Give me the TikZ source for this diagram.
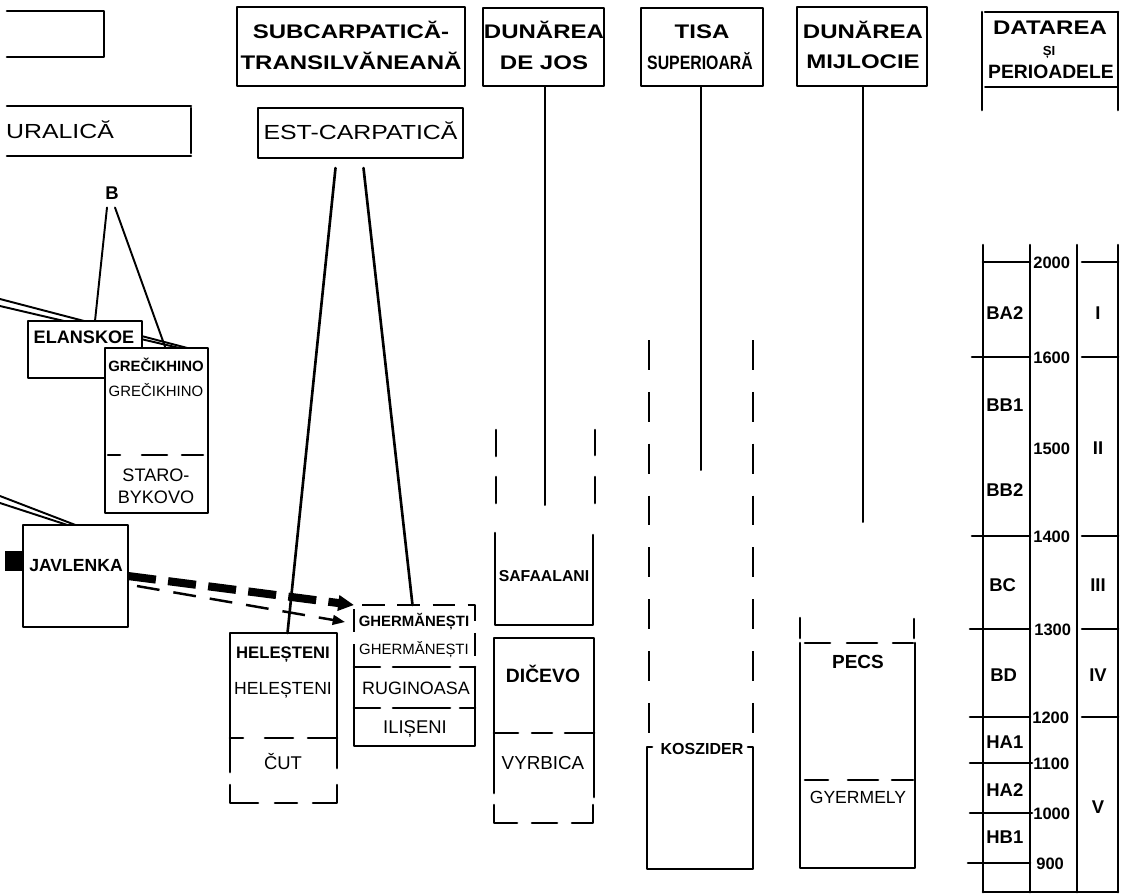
\documentclass[tikz,border=0pt]{standalone}
\usepackage{fontspec}
\setmainfont{Liberation Sans}
\newfontfamily\widefont[FakeStretch=1.22]{Liberation Sans}
\newfontfamily\narrowfont[FakeStretch=0.82]{Liberation Sans}
\usetikzlibrary{arrows.meta,backgrounds}

\begin{document}
\begin{tikzpicture}[line cap=round,line join=round,x=0.02cm,y=-0.02cm,
  >={Triangle[length=9pt,width=8.5pt]},
  box/.style={draw,line width=1.5pt,inner sep=0pt,outer sep=0pt},
  slot/.style={inner sep=0pt,outer sep=0pt},
  bl/.style={font=\bfseries\fontsize{#1}{#1}\selectfont,inner sep=0pt,text height=7pt,text depth=0pt},
  rg/.style={font=\fontsize{#1}{#1}\selectfont,inner sep=0pt,text height=7pt,text depth=0pt},
  wd/.style={font=\widefont\fontsize{11.6}{11.6}\selectfont,inner sep=0pt,text height=7pt,text depth=0pt},
  wdb/.style={font=\widefont\bfseries\fontsize{11.2}{11.2}\selectfont,inner sep=0pt,text height=7pt,text depth=0pt},
  rim/.style={line width=1.5pt},
  fine/.style={line width=1.1pt}]

\useasboundingbox (0,0) rectangle (1128,894);

% lines coming in from the left
\coordinate (inA1) at (0,299);
\coordinate (inA2) at (0,306);
\coordinate (inB1) at (0,496);
\coordinate (inB2) at (0,503);
\coordinate (bar) at (5,561);

% upper left
\draw [rim] (7,11) -- (104,11) -- (104,57) -- (7,57);
\draw [rim] (7,106) -- (191,106);
\draw [rim] (7,156) -- (191,156);
\draw [rim] (191,108) -- (191,153);
\node [wd] (ural) at (60,132) {URALICĂ};

% headers
\node [box,line width=1.6pt,minimum width=4.56cm,minimum height=1.58cm] (hSub) at (351,46.5) {};
\node [wdb] (tSub1) at (351,32) {SUBCARPATICĂ-};
\node [wdb] (tSub2) at (351,63) {TRANSILVĂNEANĂ};

\node [box,line width=1.6pt,minimum width=2.42cm,minimum height=1.56cm] (hJos) at (543.5,47) {};
\node [wdb] (tJos1) at (544,32) {DUNĂREA};
\node [wdb] (tJos2) at (544,63) {DE JOS};

\node [box,line width=1.6pt,minimum width=2.44cm,minimum height=1.56cm] (hTisa) at (702,47) {};
\node [wdb] (tTisa1) at (702,32) {TISA};
\node [font=\narrowfont\bfseries\fontsize{11}{11}\selectfont,inner sep=0pt,text height=7pt,text depth=0pt] (tTisa2) at (700,63) {SUPERIOARĂ};

\node [box,line width=1.6pt,minimum width=2.6cm,minimum height=1.58cm] (hMij) at (862,46.5) {};
\node [wdb] (tMij1) at (863,32) {DUNĂREA};
\node [wdb] (tMij2) at (863,62) {MIJLOCIE};

\draw [rim] (982,12) -- (982,110);
\draw [rim] (1118,12) -- (1118,110);
\draw [rim] (985,12) -- (1118,12);
\draw [fine] (985,87) -- (1117,87);
\node [wdb] (tDat1) at (1050,28) {DATAREA};
\node [bl=7.5] (tDat2) at (1049,49) {ȘI};
\node [bl=11] (tDat3) at (1051,72) {PERIOADELE};

% column lines under the headers
\coordinate (josEnd) at (545,505);
\coordinate (tisaEnd) at (701,470);
\coordinate (mijEnd) at (863,522);
\draw [fine] (hJos.south -| josEnd) -- (josEnd);
\draw [fine] (hTisa.south -| tisaEnd) -- (tisaEnd);
\draw [fine] (hMij.south -| mijEnd) -- (mijEnd);

% uralic group
\node [bl=10.5] (B) at (112,193) {B};
\node [box,fill=white,minimum width=2.28cm,minimum height=1.14cm] (ela) at (85,349.5) {};
\node [box,fill=white,minimum width=2.06cm,minimum height=3.3cm] (gre) at (156.5,430.5) {};
\begin{scope}[on background layer]
\draw [fine] (inA1) -- ([shift={(31,0)}]gre.north);
\draw [fine] (inA2) -- ([shift={(23,0)}]gre.north);
\end{scope}
\draw [fine] ([shift={(-5,8)}]B.south) -- ([shift={(10,0)}]ela.north);
\draw [fine] ([shift={(3,8)}]B.south) -- ([shift={(9,0)}]gre.north);

\node [bl=10.3] (elaT) at (84,337) {ELANSKOE};
\node [bl=8.5] (greT1) at (156,365) {GREČIKHINO};
\node [rg=8.5] (greT2) at (156,390) {GREČIKHINO};
\draw [rim] (108,455) -- (120,455);
\draw [rim] (142,455) -- (167,455);
\draw [rim] (182,455) -- (203,455);
\node [rg=10.3] (greT3) at (156,475) {STARO-};
\node [rg=10.3] (greT4) at (156,497) {BYKOVO};

\node [box,minimum width=2.1cm,minimum height=2.04cm] (jav) at (75.5,576) {};
\node [bl=10] (javT) at (76,565) {JAVLENKA};
\draw [fine] (inB1) -- (jav.north);
\draw [fine] (inB2) -- ([shift={(-8,0)}]jav.north);
\draw [line width=11pt,line cap=butt] (bar) -- (bar -| jav.west);

% east carpathian group
\node [box,minimum width=4.1cm,minimum height=1cm,wd] (est) at (360.5,133) {EST-CARPATICĂ};

\node [slot,minimum width=2.14cm,minimum height=3.4cm] (hel) at (283.5,718) {};
\draw [rim] (230,772) -- (230,633) -- (337,633) -- (337,768);
\draw [rim] (230,738) -- (243,738);
\draw [rim] (265,738) -- (293,738);
\draw [rim] (308,738) -- (337,738);
\draw [rim] (230,785) -- (230,803) -- (258,803);
\draw [rim] (275,803) -- (297,803);
\draw [rim] (313,803) -- (337,803) -- (337,785);
\node [bl=9.5] (helT1) at (283,652) {HELEȘTENI};
\node [rg=10] (helT2) at (283,688) {HELEȘTENI};
\node [rg=10.5] (cut) at (283,763) {ČUT};

\node [slot,minimum width=2.42cm,minimum height=2.82cm] (ghe) at (414.5,675.5) {};
\draw [rim,line cap=butt,dash pattern=on 13pt off 7pt] (354,667) -- (354,605) -- (475,605) -- (475,667);
\draw [rim] (354,667) -- (354,746) -- (475,746) -- (475,667);
\draw [rim] (354,667) -- (380,667);
\draw [rim] (393,667) -- (450,667);
\draw [rim] (460,667) -- (475,667);
\draw [rim] (354,708) -- (380,708);
\draw [rim] (393,708) -- (450,708);
\draw [rim] (460,708) -- (475,708);
\node [bl=8.5] (gheT1) at (414,620) {GHERMĂNEȘTI};
\node [rg=8.5] (gheT2) at (414,648) {GHERMĂNEȘTI};
\node [rg=10.2] (rug) at (416,688) {RUGINOASA};
\node [rg=10.5] (ili) at (415,727) {ILIȘENI};

\draw [rim] ([shift={(-25,10)}]est.south) -- ([shift={(4,0)}]hel.north);
\draw [rim] ([shift={(3,10)}]est.south) -- ([shift={(-2,0)}]ghe.north);

\draw [line width=4.6pt,line cap=butt,dash pattern=on 16pt off 7pt,->] (jav.east) -- (ghe.north west);
\draw [line width=1.4pt,line cap=butt,dash pattern=on 13pt off 8pt,-{Triangle[length=7pt,width=5.5pt]}] ([shift={(9,10)}]jav.east) -- ([shift={(-9,17)}]ghe.north west);

% lower danube
\draw [rim] (496,430) -- (496,456);
\draw [rim] (496,477) -- (496,503);
\draw [rim] (595,430) -- (595,455);
\draw [rim] (595,477) -- (595,503);
\draw [rim] (495,533) -- (495,625) -- (593,625) -- (593,535);
\node [bl=9] (safa) at (544,575) {SAFAALANI};
\draw [rim] (494,793) -- (494,638) -- (594,638) -- (594,797);
\draw [rim] (494,733) -- (518,733);
\draw [rim] (532,733) -- (552,733);
\draw [rim] (565,733) -- (594,733);
\draw [rim] (494,805) -- (494,823) -- (517,823);
\draw [rim] (532,823) -- (557,823);
\draw [rim] (572,823) -- (593,823) -- (593,805);
\node [bl=11] (dic) at (543,676) {DIČEVO};
\node [rg=10.7] (vyr) at (543,763) {VYRBICA};

% upper tisza
\draw [rim,line cap=butt,dash pattern=on 17pt off 12.5pt] (649,340) -- (649,734);
\draw [rim,line cap=butt,dash pattern=on 17pt off 12.5pt] (753,340) -- (753,734);
\draw [rim] (652,747) -- (647,747) -- (647,869) -- (753,869) -- (753,747) -- (748,747);
\node [bl=9.1] (kos) at (702,748) {KOSZIDER};

% middle danube
\draw [rim] (800,618) -- (800,638);
\draw [rim] (914,619) -- (914,638);
\draw [rim] (805,643) -- (830,643);
\draw [rim] (847,643) -- (877,643);
\draw [rim] (893,643) -- (913,643);
\draw [rim] (800,643) -- (800,868) -- (915,868) -- (915,643);
\draw [rim] (805,780) -- (828,780);
\draw [rim] (848,780) -- (878,780);
\draw [rim] (892,780) -- (913,780);
\node [bl=10.8] (pecs) at (858,662) {PECS};
\node [rg=10] (gyer) at (858,797) {GYERMELY};

% dating scale
\draw [rim] (983,245) -- (983,892);
\draw [rim] (1030,245) -- (1030,892);
\draw [rim] (1077,245) -- (1077,892);
\draw [rim] (1118,245) -- (1118,892);
\draw [rim] (983,892) -- (1118,892);

\draw [rim] (983,262) -- (1030,262);
\draw [rim] (972,357) -- (1030,357);
\draw [rim] (972,536) -- (1030,536);
\draw [rim] (970,629) -- (1030,629);
\draw [rim] (970,717) -- (1030,717);
\draw [rim] (970,763) -- (1032,763);
\draw [rim] (970,813) -- (1032,813);
\draw [rim] (968,863) -- (1030,863);

\draw [rim] (1082,262) -- (1118,262);
\draw [rim] (1082,357) -- (1118,357);
\draw [rim] (1082,536) -- (1118,536);
\draw [rim] (1082,629) -- (1118,629);
\draw [rim] (1082,717) -- (1118,717);

\node [bl=9.4,anchor=west] (y2000) at (1033,262) {2000};
\node [bl=9.4,anchor=west] (y1600) at (1033,357) {1600};
\node [bl=9.4,anchor=west] (y1500) at (1033,448) {1500};
\node [bl=9.4,anchor=west] (y1400) at (1033,536) {1400};
\node [bl=9.4,anchor=west] (y1300) at (1034,629) {1300};
\node [bl=9.4,anchor=west] (y1200) at (1032,717) {1200};
\node [bl=9.4,anchor=west] (y1100) at (1033,763) {1100};
\node [bl=9.4,anchor=west] (y1000) at (1033,813) {1000};
\node [bl=9.4,anchor=west] (y900) at (1036,863) {900};

\node [bl=10.5,anchor=west] (pBA2) at (986,313) {BA2};
\node [bl=10.5,anchor=west] (pBB1) at (986,405) {BB1};
\node [bl=10.5,anchor=west] (pBB2) at (986,490) {BB2};
\node [bl=10.5,anchor=west] (pBC) at (989,585) {BC};
\node [bl=10.5,anchor=west] (pBD) at (990,675) {BD};
\node [bl=10.5,anchor=west] (pHA1) at (986,742) {HA1};
\node [bl=10.5,anchor=west] (pHA2) at (986,790) {HA2};
\node [bl=10.5,anchor=west] (pHB1) at (986,837) {HB1};

\node [bl=10.5] (rI) at (1098,313) {I};
\node [bl=10.5] (rII) at (1098,448) {II};
\node [bl=10.5] (rIII) at (1098,585) {III};
\node [bl=10.5] (rIV) at (1098,675) {IV};
\node [bl=10.5] (rV) at (1098,807) {V};
\end{tikzpicture}
\end{document}
